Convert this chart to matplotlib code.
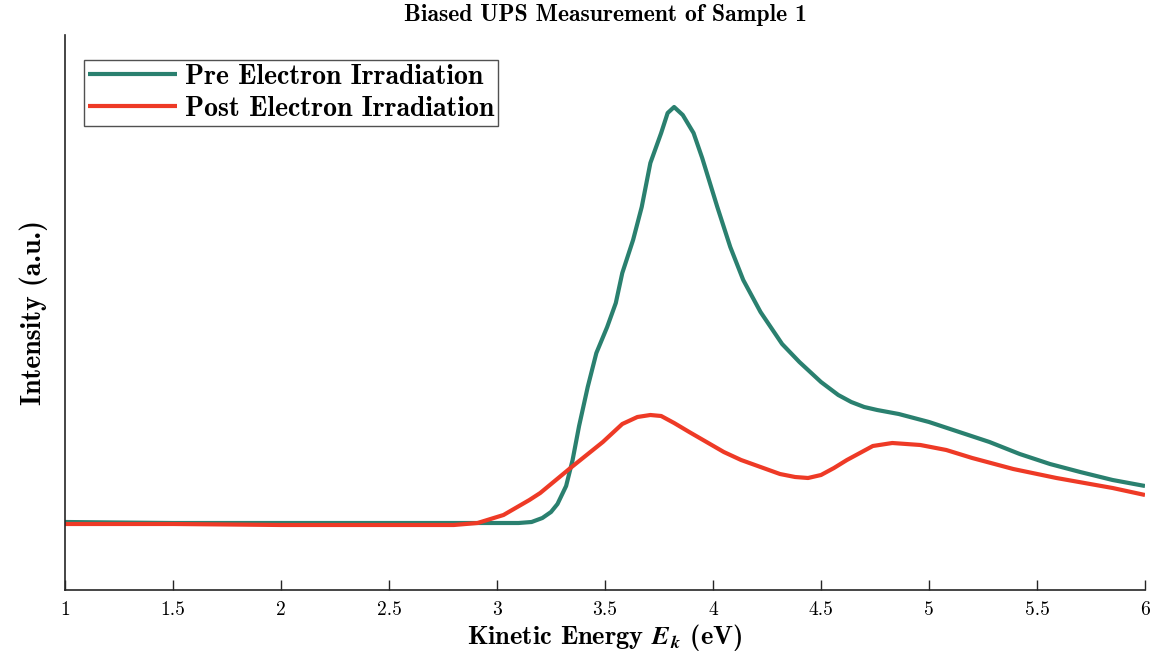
import matplotlib
matplotlib.use("Agg")
import matplotlib.pyplot as plt

# Kinetic energy (eV) and intensity (a.u.) of the biased UPS spectra
pre_energy = [1.00, 1.50, 2.00, 2.50, 3.00, 3.10, 3.16, 3.21, 3.25, 3.28, 3.32,
              3.35, 3.38, 3.42, 3.46, 3.51, 3.55, 3.58, 3.63, 3.67, 3.71,
              3.76, 3.79, 3.82, 3.86, 3.91, 3.95, 4.00, 4.02, 4.08, 4.14,
              4.22, 4.32, 4.40, 4.50, 4.58, 4.64, 4.70, 4.76, 4.86, 5.00,
              5.14, 5.28, 5.42, 5.56, 5.70, 5.85, 6.00]
pre_intensity = [0.68, 0.67, 0.67, 0.67, 0.67, 0.67, 0.68, 0.72, 0.78, 0.86, 1.04,
                 1.30, 1.64, 2.03, 2.37, 2.63, 2.87, 3.17, 3.50, 3.83, 4.27,
                 4.57, 4.77, 4.83, 4.75, 4.57, 4.32, 3.97, 3.83, 3.43, 3.10,
                 2.78, 2.46, 2.28, 2.08, 1.95, 1.88, 1.83, 1.80, 1.76, 1.68,
                 1.58, 1.48, 1.36, 1.26, 1.18, 1.10, 1.04]

post_energy = [1.00, 1.50, 2.00, 2.50, 2.80, 2.91, 3.03, 3.15, 3.20, 3.34, 3.49,
               3.58, 3.65, 3.71, 3.76, 3.82, 3.89, 3.97, 4.05, 4.13, 4.22,
               4.31, 4.38, 4.44, 4.50, 4.56, 4.62, 4.68, 4.74, 4.83, 4.96,
               5.08, 5.20, 5.39, 5.59, 5.72, 5.85, 6.00]
post_intensity = [0.66, 0.66, 0.65, 0.65, 0.65, 0.67, 0.75, 0.90, 0.97, 1.22, 1.48,
                  1.66, 1.73, 1.75, 1.74, 1.67, 1.58, 1.48, 1.38, 1.30, 1.23,
                  1.16, 1.13, 1.12, 1.15, 1.22, 1.30, 1.37, 1.44, 1.47, 1.45,
                  1.40, 1.32, 1.21, 1.12, 1.07, 1.02, 0.95]

xticks = [1, 1.5, 2, 2.5, 3, 3.5, 4, 4.5, 5, 5.5, 6]
xtick_labels = ["1", "1.5", "2", "2.5", "3", "3.5", "4", "4.5", "5", "5.5", "6"]

plt.rcParams["mathtext.fontset"] = "cm"
plt.rcParams["axes.formatter.use_mathtext"] = True

BOLD = "cmb10"
REG = "cmr10"
teal = "#2A806F"
red = "#EE3A26"
spine_col = "#262626"

fig = plt.figure(figsize=(11.58, 6.59), dpi=100)
ax = fig.add_axes([65 / 1158, 69 / 659, 1080 / 1158, 555 / 659])

ax.plot(pre_energy, pre_intensity, color=teal, lw=3.0, label="Pre Electron Irradiation",
        solid_capstyle="butt", solid_joinstyle="round")
ax.plot(post_energy, post_intensity, color=red, lw=3.0, label="Post Electron Irradiation",
        solid_capstyle="butt", solid_joinstyle="round")

ax.set_xlim(1, 6)
ax.set_ylim(0, 5.55)
ax.set_xticks(xticks)
ax.set_xticklabels(xtick_labels, fontfamily=REG, fontsize=14)
ax.set_yticks([])
ax.tick_params(axis="x", direction="in", length=7, width=1.0, color=spine_col, pad=8)

for side in ("top", "right"):
    ax.spines[side].set_visible(False)
for side in ("left", "bottom"):
    ax.spines[side].set_color(spine_col)
    ax.spines[side].set_linewidth(1.2)

ax.set_title("Biased UPS Measurement of Sample 1", fontfamily=BOLD, fontsize=17, pad=10)
ax.set_xlabel(r"Kinetic Energy $\mathbfit{E}_{\mathbfit{k}}$ (eV)", fontfamily=BOLD,
              fontsize=19, labelpad=2)
ax.set_ylabel("Intensity (a.u.)", fontfamily=BOLD, fontsize=20, labelpad=12)

leg = ax.legend(loc="upper left", bbox_to_anchor=(0.012, 0.965), prop={"family": BOLD, "size": 20},
                frameon=True, fancybox=False, handlelength=3.2, handletextpad=0.3,
                borderpad=0.15, labelspacing=0.2, borderaxespad=0.2)
leg.get_frame().set_edgecolor(spine_col)
leg.get_frame().set_linewidth(1.0)

fig.savefig("out.png", dpi=100, facecolor="white")
